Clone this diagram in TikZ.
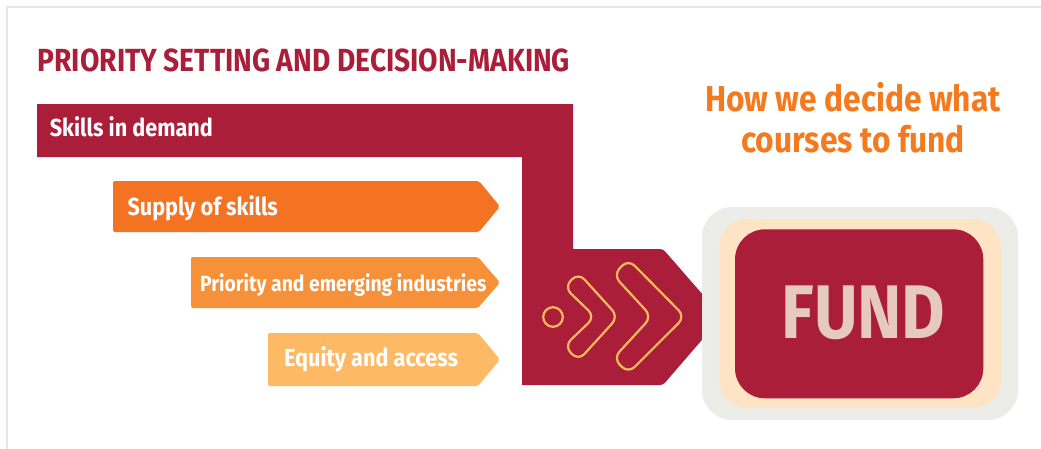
\documentclass[tikz,border=0pt]{standalone}
\usepackage{fontspec}
\setmainfont{Fira Sans}[FakeStretch=0.88]
\definecolor{wine}{HTML}{AA1E3A}
\definecolor{supplyor}{HTML}{F37322}
\definecolor{prior}{HTML}{F6913A}
\definecolor{equity}{HTML}{FDB964}
\definecolor{chev}{HTML}{F9B95E}
\definecolor{heador}{HTML}{F47A20}
\definecolor{fundtxt}{HTML}{E6C9C1}
\definecolor{fundgray}{HTML}{ECEDE8}
\definecolor{fundpeach}{HTML}{FEE3C4}
\definecolor{framegray}{HTML}{E6E6E6}
\tikzset{>=latex}
\tikzset{
  barlabel/.style={anchor=base west,inner sep=0pt,text=white,font=\bfseries\fontsize{24.6}{27}\selectfont},
  heading/.style={anchor=base,inner sep=0pt,text=heador,font=\bfseries\fontsize{36}{40}\selectfont},
  chevline/.style={draw=chev,line width=2.2pt,rounded corners=9pt}
}

\begin{document}
\begin{tikzpicture}[x=1pt,y=-1pt]
  \useasboundingbox (0,0) rectangle (1041,448);
  \draw[framegray,line width=1.5pt] (1046,7) -- (7,7) -- (7,453);
  \node[anchor=base west,inner sep=0pt,text=wine,font=\bfseries\fontsize{32}{35}\selectfont] (title) at (37.5,71.7) {PRIORITY SETTING AND DECISION-MAKING};
  % the bars
  \fill[wine] (37,104) -- (573,104) -- (573,249) [rounded corners=3pt] -- (663,249) -- (722,316.7) -- (663,385) [sharp corners] -- (522,385) -- (522,157) -- (37,157) -- cycle;
  \fill[supplyor,rounded corners=2pt] (113,181) -- (479,181) -- (500,206.5) -- (479,232) -- (113,232) -- cycle;
  \fill[prior,rounded corners=2pt] (191,257) -- (478,257) -- (500,282.5) -- (478,308) -- (191,308) -- cycle;
  \fill[equity,rounded corners=2pt] (268,333) -- (478,333) -- (500,359.5) -- (478,386) -- (268,386) -- cycle;
  \node[barlabel] (skills) at (49.6,136.7) {Skills in demand};
  \node[barlabel] (supply) at (127.3,215) {Supply of skills};
  \node[barlabel,font=\bfseries\fontsize{22}{24}\selectfont] (priority) at (200,291.7) {Priority and emerging industries};
  \node[barlabel] (equityl) at (284,366.7) {Equity and access};
  % chevrons
  \draw[chev,line width=2.2pt] (553,317) circle (9.8);
  \draw[chevline] (578.3,272.7) -- (618.3,316.7) -- (578.3,360.7) -- (564.3,346) -- (595,316.7) -- (564.3,287.3) -- cycle;
  \draw[chevline] (628.3,259.3) -- (685,316.7) -- (628.3,373.3) -- (613.3,358.3) -- (651.7,316.7) -- (613.3,275) -- cycle;
  % fund box
  \fill[fundgray,rounded corners=30pt] (702,207) rectangle (1018,420);
  \fill[fundpeach,rounded corners=28pt] (719,219) rectangle (1001,408);
  \fill[wine,rounded corners=30pt] (735,229.3) rectangle (983.3,398.3);
  \node[inner sep=0pt,text=fundtxt,font=\bfseries\fontsize{76}{80}\selectfont] (fund) at (863.5,313.3) {FUND};
  \node[heading] (how) at (853,111.7) {How we decide what};
  \node[heading] (courses) at (853,152.3) {courses to fund};
\end{tikzpicture}
\end{document}
